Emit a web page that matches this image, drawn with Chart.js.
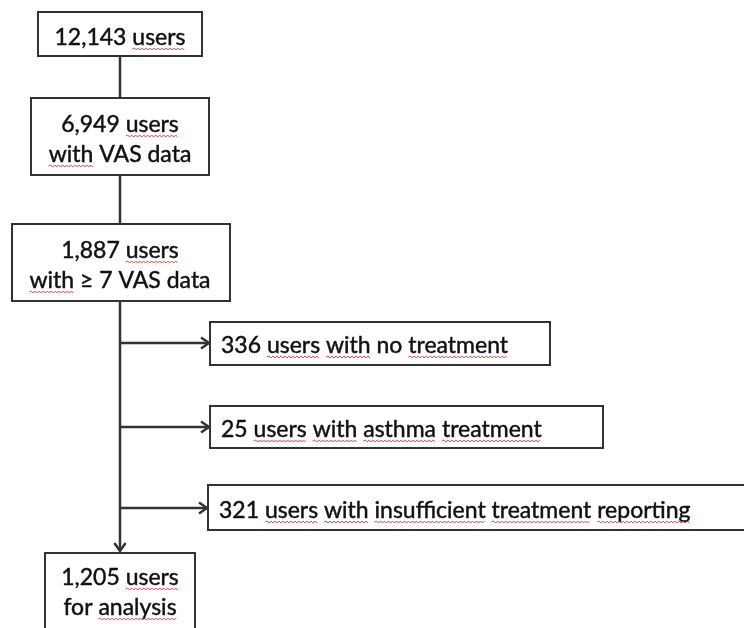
<!DOCTYPE html>
<html>
<head>
<meta charset="utf-8">
<script src="https://cdn.jsdelivr.net/npm/chart.js@4/dist/chart.umd.min.js"></script>
<style>
  html, body { margin: 0; padding: 0; background: #ffffff; }
  #wrap { width: 744px; height: 628px; }
</style>
</head>
<body>
<div id="wrap"><canvas id="c" width="744" height="628"></canvas></div>
<script>
// ---- Data (flowchart content) ----
const stepLabels = [
  ['12,143 users'],
  ['6,949 users', 'with VAS data'],
  ['1,887 users', 'with \u2265 7 VAS data'],
  ['1,205 users', 'for analysis']
];
const exclusionLabels = [
  '336 users with no treatment',
  '25 users with asthma treatment',
  '321 users with insufficient treatment reporting'
];
// words flagged by the spell checker (red wavy underline)
const flaggedWords = ['users', 'with', 'treatment', 'asthma', 'insufficient', 'reporting', 'analysis'];

// ---- Layout (axis units of a 744 x 628 canvas) ----
const spineX = 120;
const stepBoxes = [
  { x0: 38, x1: 202, y0: 12,  y1: 56 },
  { x0: 31, x1: 209, y0: 98,  y1: 175 },
  { x0: 12, x1: 230, y0: 224, y1: 301 },
  { x0: 45, x1: 195, y0: 553, y1: 660 }
];
const stepBaselines = [[45], [132, 162], [258, 288], [585, 615]];
const exclusionBoxes = [
  { x0: 210, x1: 550, y0: 322, y1: 365, arrowY: 343 },
  { x0: 210, x1: 603, y0: 406, y1: 448, arrowY: 427 },
  { x0: 208, x1: 770, y0: 485, y1: 530, arrowY: 508 }
];

const FONT = '23px Lato';
const TEXT_COLOR = '#111111';
const LINE_COLOR = '#333333';

function drawSquiggle(ctx, x, y, w) {
  ctx.save();
  ctx.strokeStyle = 'rgba(225,45,45,0.9)';
  ctx.lineWidth = 1;
  ctx.beginPath();
  const step = 2;
  let up = true;
  ctx.moveTo(x, y);
  for (let px = x + step; px <= x + w; px += step) {
    ctx.lineTo(px, y + (up ? -1 : 1));
    up = !up;
  }
  ctx.stroke();
  ctx.restore();
}

function drawTextLine(ctx, text, x, y, align) {
  ctx.font = FONT;
  ctx.fillStyle = TEXT_COLOR;
  ctx.strokeStyle = TEXT_COLOR;
  ctx.lineWidth = 0.45;
  ctx.textBaseline = 'alphabetic';
  const total = ctx.measureText(text).width;
  const startX = align === 'center' ? x - total / 2 : x;
  ctx.textAlign = 'left';
  ctx.fillText(text, startX, y);
  ctx.strokeText(text, startX, y);
  const words = text.split(' ');
  words.forEach((w, i) => {
    const prefix = words.slice(0, i).join(' ') + (i > 0 ? ' ' : '');
    const wx = startX + ctx.measureText(prefix).width;
    const ww = ctx.measureText(w).width;
    if (flaggedWords.includes(w)) drawSquiggle(ctx, wx, y + 4, ww);
  });
}

function arrowHead(ctx, x, y, dir) {
  const s = 8;
  ctx.beginPath();
  if (dir === 'right') {
    ctx.moveTo(x - s, y - s * 0.7); ctx.lineTo(x, y); ctx.lineTo(x - s, y + s * 0.7);
  } else {
    ctx.moveTo(x - s * 0.7, y - s); ctx.lineTo(x, y); ctx.lineTo(x + s * 0.7, y - s);
  }
  ctx.stroke();
}

const flowPlugin = {
  id: 'flow',
  afterDatasetsDraw(chart) {
    const ctx = chart.ctx;
    const xs = chart.scales.x, ys = chart.scales.y;
    const X = v => xs.getPixelForValue(v);
    const Y = v => ys.getPixelForValue(v);
    ctx.save();
    ctx.lineCap = 'butt';
    ctx.lineJoin = 'miter';
    ctx.strokeStyle = LINE_COLOR;

    // connectors
    ctx.lineWidth = 2.5;
    ctx.beginPath();
    for (let i = 0; i < 2; i++) {
      ctx.moveTo(X(spineX), Y(stepBoxes[i].y1));
      ctx.lineTo(X(spineX), Y(stepBoxes[i + 1].y0));
    }
    ctx.moveTo(X(spineX), Y(stepBoxes[2].y1));
    ctx.lineTo(X(spineX), Y(stepBoxes[3].y0 - 2));
    exclusionBoxes.forEach(b => {
      ctx.moveTo(X(spineX), Y(b.arrowY));
      ctx.lineTo(X(b.x0 - 1), Y(b.arrowY));
    });
    ctx.stroke();
    exclusionBoxes.forEach(b => arrowHead(ctx, X(b.x0 - 1), Y(b.arrowY), 'right'));
    arrowHead(ctx, X(spineX), Y(stepBoxes[3].y0 - 2), 'down');

    // boxes
    ctx.lineWidth = 2;
    ctx.fillStyle = '#ffffff';
    const boxes = stepBoxes.concat(exclusionBoxes);
    boxes.forEach(b => {
      const x0 = X(b.x0), x1 = X(b.x1), y0 = Y(b.y0), y1 = Y(b.y1);
      ctx.fillRect(x0, y0, x1 - x0, y1 - y0);
      ctx.strokeRect(x0, y0, x1 - x0, y1 - y0);
    });

    // text
    stepLabels.forEach((lines, i) => {
      lines.forEach((t, j) => drawTextLine(ctx, t, X(spineX), Y(stepBaselines[i][j]), 'center'));
    });
    exclusionLabels.forEach((t, i) => {
      const b = exclusionBoxes[i];
      drawTextLine(ctx, t, X(b.x0 + 11), Y(b.arrowY + 10), 'left');
    });
    ctx.restore();
  }
};

const centers = stepBoxes.concat(exclusionBoxes).map(b => ({ x: (b.x0 + b.x1) / 2, y: (b.y0 + b.y1) / 2 }));

new Chart(document.getElementById('c'), {
  type: 'scatter',
  data: { datasets: [{ data: centers, pointRadius: 0, showLine: false }] },
  options: {
    responsive: false,
    animation: false,
    layout: { padding: 0 },
    scales: {
      x: { type: 'linear', min: 0, max: 744, display: false },
      y: { type: 'linear', min: 0, max: 628, reverse: true, display: false }
    },
    plugins: { legend: { display: false }, tooltip: { enabled: false } }
  },
  plugins: [flowPlugin]
});
</script>
</body>
</html>
